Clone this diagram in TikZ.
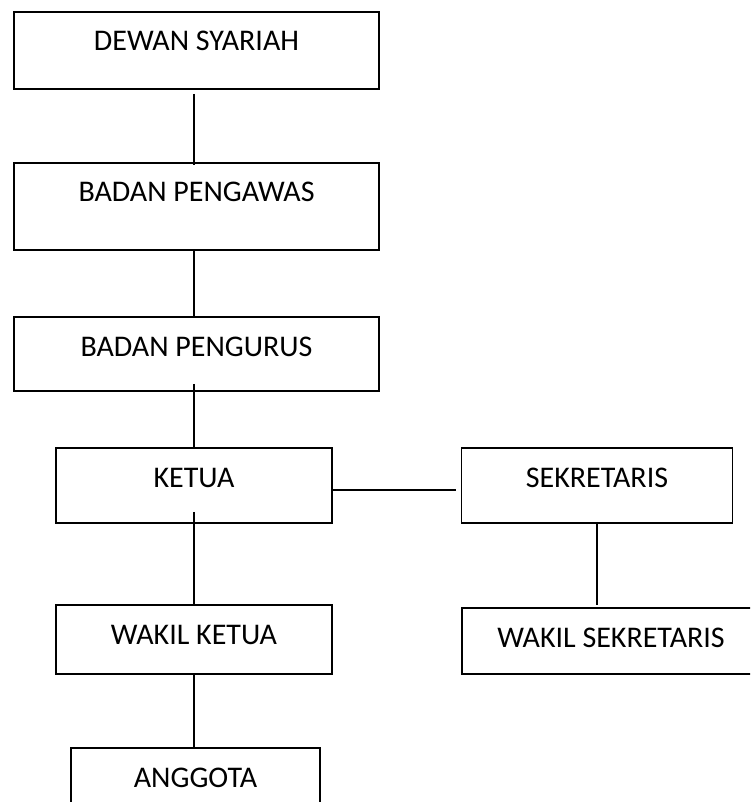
\documentclass[tikz,border=0pt]{standalone}
\usepackage{fontspec}
\setmainfont{Carlito}
\usetikzlibrary{positioning}

\tikzset{
  orgbox/.style={draw, line width=1.6pt, inner sep=0pt, text height=39pt, font=\fontsize{30}{36}\selectfont},
  orgline/.style={line width=1.8pt}
}

\begin{document}
\begin{tikzpicture}[x=1pt, y=-1pt]
  \useasboundingbox (0,0) rectangle (750,802);
  \clip (0,0) rectangle (750,802);
  % left column
  \node[orgbox, minimum width=365pt, text depth=38pt] (dewan) at (196.5,50.5) {DEWAN SYARIAH};
  \node[orgbox, minimum width=365pt, text depth=48pt] (pengawas) at (196.5,206.5) {BADAN PENGAWAS};
  \node[orgbox, minimum width=365pt, text depth=35pt] (pengurus) at (196.5,354) {BADAN PENGURUS};
  \node[orgbox, minimum width=276pt, text depth=36pt] (ketua) at (194,485.5) {KETUA};
  \node[orgbox, minimum width=276pt, text depth=30pt] (wakilketua) at (194,639.5) {WAKIL KETUA};
  \node[orgbox, minimum width=249pt, text depth=53pt] (anggota) at (195.5,794) {ANGGOTA};
  % right column
  \node[orgbox, minimum width=271pt, text depth=36pt] (sekretaris) at (597,485.5) {SEKRETARIS};
  \node[orgbox, minimum width=298pt, text depth=27pt] (wakilsek) at (611,641) {WAKIL SEKRETARIS};
  % connectors
  \draw[orgline, shorten <=4pt, shorten >=-3pt] (ketua.north |- dewan.south) -- (ketua.north |- pengawas.north);
  \draw[orgline] (ketua.north |- pengawas.south) -- (ketua.north |- pengurus.north);
  \draw[orgline, shorten <=-8pt] (ketua.north |- pengurus.south) -- (ketua.north);
  \draw[orgline, shorten <=-12pt] (ketua.south) -- (wakilketua.north);
  \draw[orgline] (wakilketua.south) -- (wakilketua.south |- anggota.north);
  \draw[orgline, shorten >=5pt] ([yshift=-4.5pt]ketua.east) -- ([yshift=-4.5pt]sekretaris.west);
  \draw[orgline, shorten <=-2pt, shorten >=2pt] (sekretaris.south) -- (sekretaris.south |- wakilsek.north);
\end{tikzpicture}
\end{document}
